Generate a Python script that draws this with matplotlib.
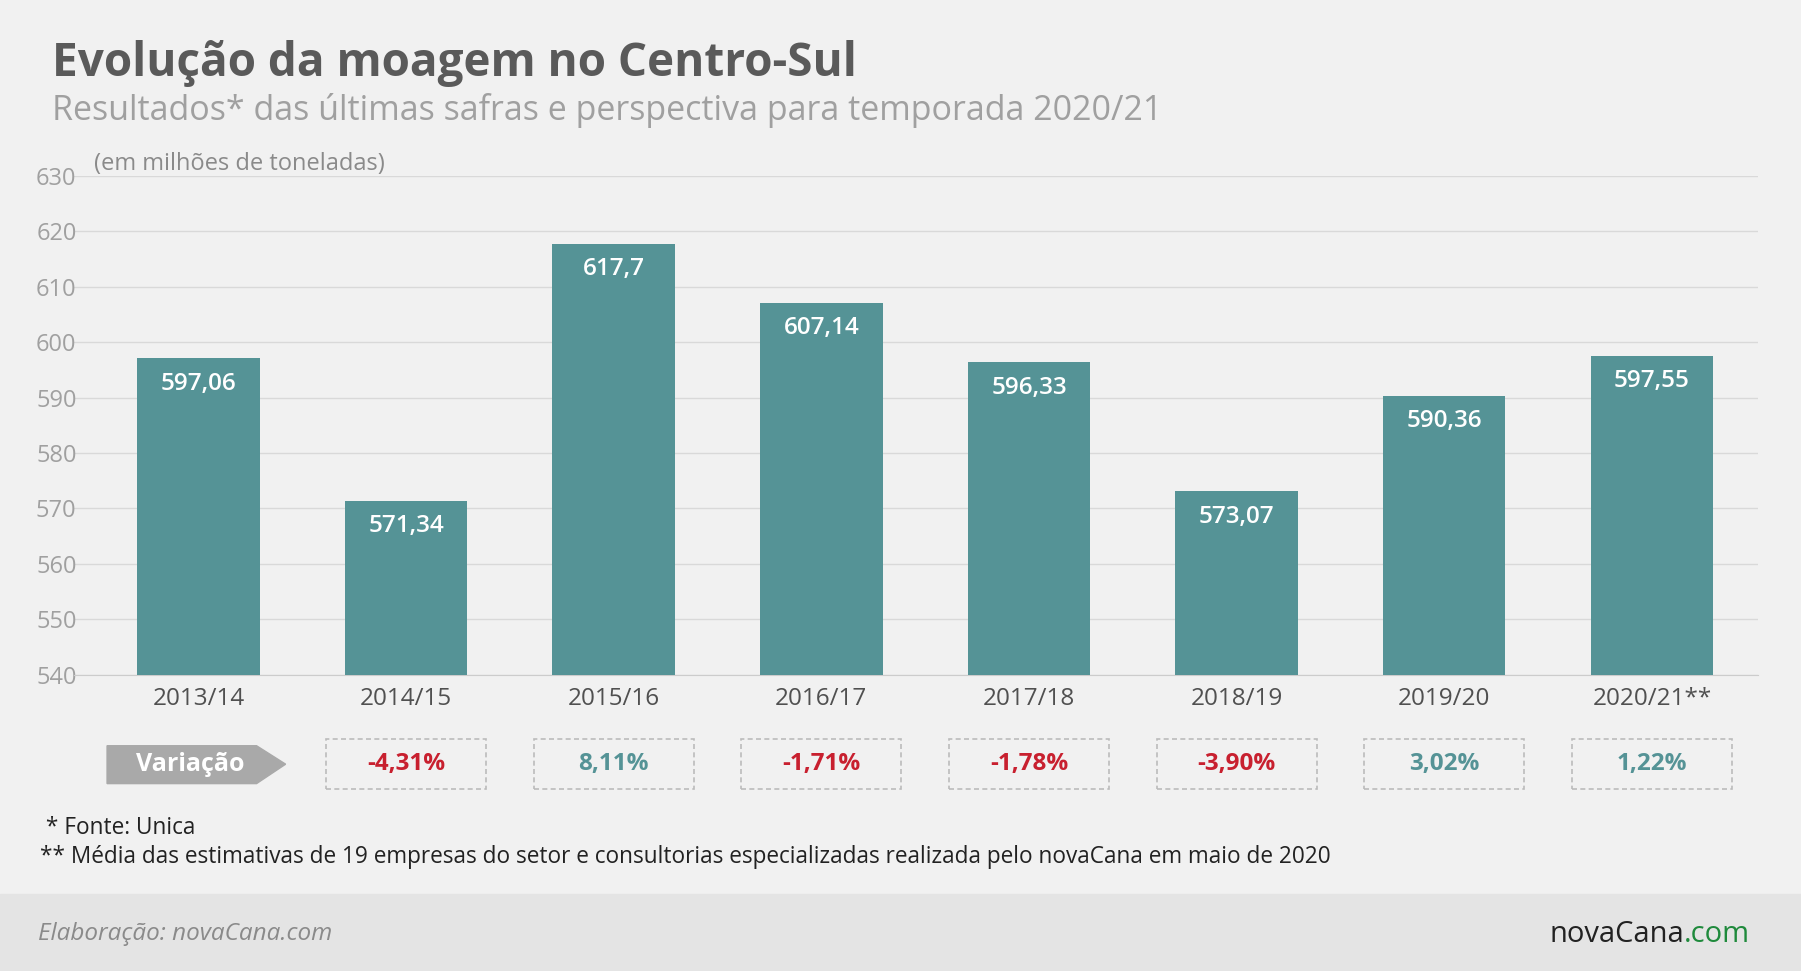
import matplotlib.pyplot as plt
from matplotlib.patches import Rectangle, Polygon
from matplotlib.transforms import blended_transform_factory

safras = ["2013/14", "2014/15", "2015/16", "2016/17", "2017/18", "2018/19", "2019/20", "2020/21**"]
moagem = [597.06, 571.34, 617.7, 607.14, 596.33, 573.07, 590.36, 597.55]
rotulos = ["597,06", "571,34", "617,7", "607,14", "596,33", "573,07", "590,36", "597,55"]
variacao = [None, "-4,31%", "8,11%", "-1,71%", "-1,78%", "-3,90%", "3,02%", "1,22%"]

teal = "#559396"
red = "#c8202f"
bg = "#f1f1f1"

plt.rcParams["font.family"] = ["Open Sans", "DejaVu Sans"]
fig = plt.figure(figsize=(18.01, 9.71), dpi=100, facecolor=bg)
ax = fig.add_axes([0.041, 0.305, 0.935, 0.514])
ax.set_facecolor(bg)

x = range(len(safras))
ax.bar(x, [v - 540 for v in moagem], bottom=540, width=0.59, color=teal, zorder=3)
for i, v in enumerate(moagem):
    ax.text(i, v - 2.4, rotulos[i], ha="center", va="top", color="white", fontsize=17.5,
            fontweight="semibold", zorder=4)

ax.set_ylim(540, 630)
ax.set_xlim(-0.6, 7.51)
ax.set_yticks(range(540, 631, 10))
ax.yaxis.grid(True, color="#d9d9d9", lw=1, zorder=0)
ax.tick_params(axis="y", length=0, labelsize=17, labelcolor="#a0a0a0", pad=-2)
ax.tick_params(axis="x", length=0, labelsize=17.5, labelcolor="#505050", pad=9)
ax.set_xticks(list(x))
ax.set_xticklabels(safras)
for s in ax.spines.values():
    s.set_visible(False)
ax.spines["bottom"].set_visible(True)
ax.spines["bottom"].set_color("#cccccc")
ax.text(0.012, 1.0, "(em milhões de toneladas)", transform=ax.transAxes, fontsize=17,
        color="#8a8a8a", va="bottom")

# variation boxes
tr = blended_transform_factory(ax.transData, fig.transFigure)
for i, v in enumerate(variacao):
    if v is None:
        continue
    ax.add_patch(Rectangle((i - 0.385, 0.187), 0.77, 0.052, transform=tr, fill=False,
                           ls=(0, (3, 2)), ec="#bbbbbb", lw=1.2, clip_on=False))
    col = red if v.startswith("-") else teal
    ax.text(i, 0.213, v, transform=tr, ha="center", va="center", fontsize=17.5,
            color=col, fontweight="bold")
ax.add_patch(Polygon([(-0.44, 0.193), (0.28, 0.193), (0.42, 0.213), (0.28, 0.232), (-0.44, 0.232)],
                     transform=tr, color="#a9a9a9", clip_on=False))
ax.text(-0.04, 0.213, "Variação", transform=tr, ha="center", va="center", fontsize=18,
        color="white", fontweight="bold")

fig.text(0.029, 0.935, "Evolução da moagem no Centro-Sul", fontsize=33, fontweight="bold",
         color="#5a5a5a", va="center")
fig.text(0.029, 0.886, "Resultados* das últimas safras e perspectiva para temporada 2020/21",
         fontsize=24.5, color="#a0a0a0", va="center")
fig.text(0.022, 0.147, " * Fonte: Unica", fontsize=16.3, color="#222222", va="center")
fig.text(0.022, 0.117, "** Média das estimativas de 19 empresas do setor e consultorias especializadas realizada pelo novaCana em maio de 2020",
         fontsize=16.3, color="#222222", va="center")

fig.patches.append(Rectangle((0, 0), 1, 0.079, transform=fig.transFigure, color="#e4e4e4", zorder=0))
fig.text(0.021, 0.038, "Elaboração: novaCana.com", fontsize=17.5, style="italic", color="#8a8a8a", va="center")
fig.text(0.935, 0.038, "novaCana", fontsize=21, color="#222222", va="center", ha="right")
fig.text(0.935, 0.038, ".com", fontsize=21, color="#1f8a3c", va="center", ha="left")

fig.savefig("out.png", dpi=100, facecolor=bg)
